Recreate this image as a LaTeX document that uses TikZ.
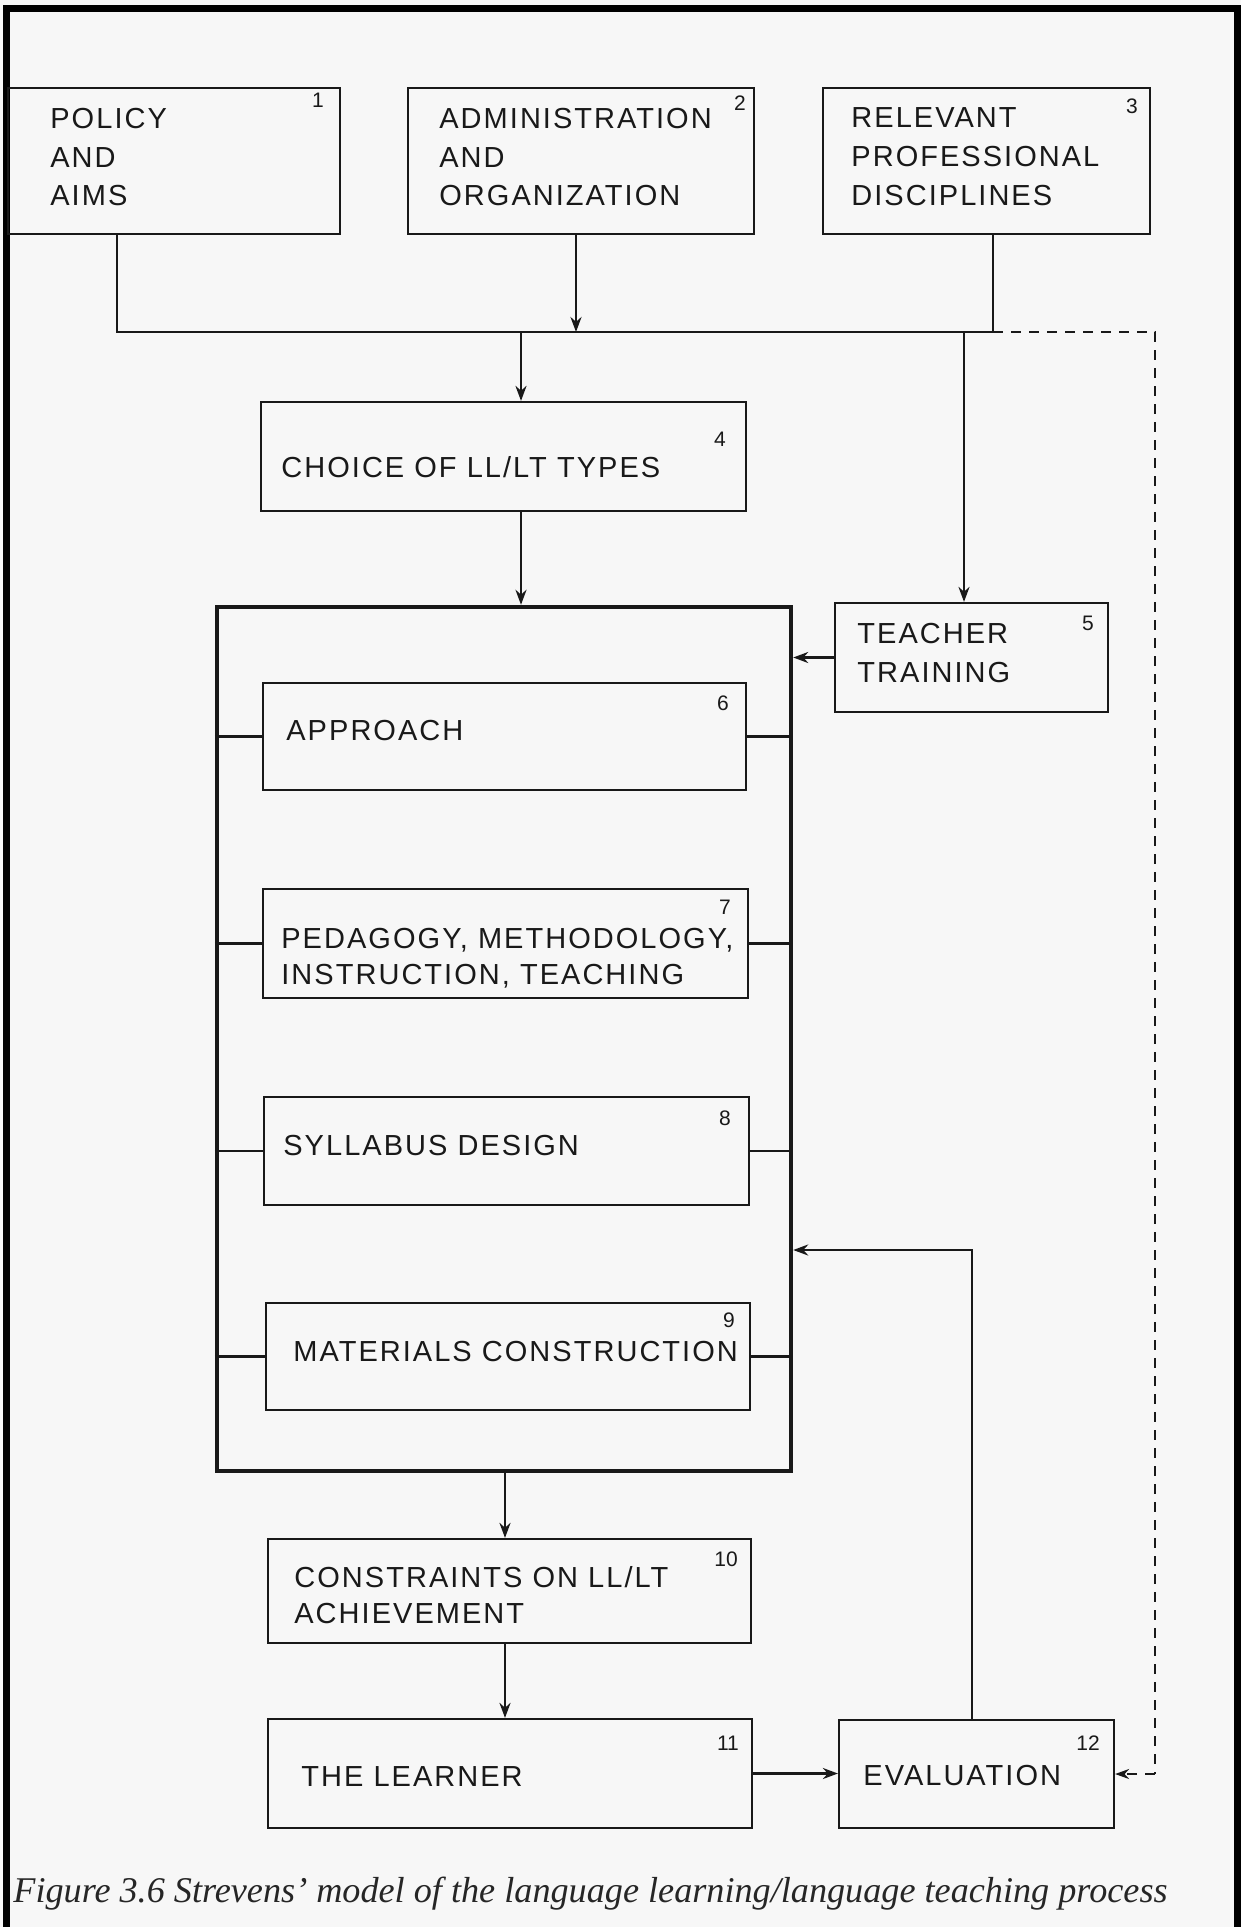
\documentclass[tikz,border=0pt]{standalone}
\usepackage{fontspec}
\setmainfont{Liberation Sans}
\newfontfamily\boxfont[LetterSpace=7]{Liberation Sans}
\newfontfamily\capfont{Liberation Serif}
\usetikzlibrary{arrows.meta,fit}
\newcommand\bxf{\boxfont\fontsize{14.5pt}{17pt}\selectfont}
\newcommand\nmf{\fontsize{10.5pt}{12pt}\selectfont}
\begin{document}
\begin{tikzpicture}[x=0.5pt,y=-0.5pt,
  box/.style={draw=black!90, line width=1.1pt, inner sep=0pt},
  bigbox/.style={draw=black!90, line width=2.2pt, inner sep=0pt},
  txt/.style={anchor=base west, inner sep=0pt, font=\bxf, text=black!90},
  num/.style={inner sep=0pt, font=\nmf, text=black!90},
  conn/.style={draw=black!90, line width=1.3pt},
  arr/.style={conn, -{Stealth[length=7.5pt,width=5.5pt]}},
  dsh/.style={draw=black!90, line width=1pt, dash pattern=on 5pt off 4pt}]
\useasboundingbox (0,0) rectangle (1241,1927);
\fill[black!3] (0,0) rectangle (1241,1927);
% frame
\draw[line width=3.5pt] (6.5,1927) -- (6.5,8.5) -- (1237.5,8.5) -- (1237.5,1927);
% boxes
\node[box, fit={(8,88)(340,234)}] (b1) {};
\node[box, fit={(408,88)(754,234)}] (b2) {};
\node[box, fit={(823,88)(1150,234)}] (b3) {};
\node[box, fit={(261,402)(746,511)}] (b4) {};
\node[box, fit={(835,603)(1108,712)}] (b5) {};
\node[bigbox, fit={(217,607)(791,1471)}] (big) {};
\node[box, fit={(263,683)(746,790)}] (b6) {};
\node[box, fit={(263,889)(748,998)}] (b7) {};
\node[box, fit={(264,1097)(749,1205)}] (b8) {};
\node[box, fit={(266,1303)(750,1410)}] (b9) {};
\node[box, fit={(268,1539)(751,1643)}] (b10) {};
\node[box, fit={(268,1719)(752,1828)}] (b11) {};
\node[box, fit={(839,1720)(1114,1828)}] (b12) {};
% texts
\node[txt] (t1a) at (50,128) {POLICY};
\node[txt] (t1b) at (50,167) {AND};
\node[txt] (t1c) at (50,205) {AIMS};
\node[num] (n1) at (318,100) {1};
\node[txt] (t2a) at (439,128) {ADMINISTRATION};
\node[txt] (t2b) at (439,167) {AND};
\node[txt] (t2c) at (439,205) {ORGANIZATION};
\node[num] (n2) at (740,103) {2};
\node[txt] (t3a) at (851,127) {RELEVANT};
\node[txt] (t3b) at (851,166) {PROFESSIONAL};
\node[txt] (t3c) at (851,205) {DISCIPLINES};
\node[num] (n3) at (1132,106) {3};
\node[txt] (t4) at (281,477) {CHOICE OF LL/LT TYPES};
\node[num] (n4) at (720,439) {4};
\node[txt] (t5a) at (857,643) {TEACHER};
\node[txt] (t5b) at (857,682) {TRAINING};
\node[num] (n5) at (1088,623) {5};
\node[txt] (t6) at (286,740) {APPROACH};
\node[num] (n6) at (723,703) {6};
\node[txt] (t7a) at (281,948) {PEDAGOGY, METHODOLOGY,};
\node[txt] (t7b) at (281,984) {INSTRUCTION, TEACHING};
\node[num] (n7) at (725,907) {7};
\node[txt] (t8) at (283,1155) {SYLLABUS DESIGN};
\node[num] (n8) at (725,1118) {8};
\node[txt] (t9) at (293,1361) {MATERIALS CONSTRUCTION};
\node[num] (n9) at (729,1320) {9};
\node[txt] (t10a) at (294,1587) {CONSTRAINTS ON LL/LT};
\node[txt] (t10b) at (294,1623) {ACHIEVEMENT};
\node[num] (n10) at (726,1559) {10};
\node[txt] (t11) at (301,1786) {THE LEARNER};
\node[num] (n11) at (728,1743) {11};
\node[txt] (t12) at (863,1785) {EVALUATION};
\node[num] (n12) at (1088,1743) {12};
% caption
\node[anchor=base west, inner sep=0pt, font=\capfont\itshape\fontsize{18.1pt}{22pt}\selectfont, text=black!85] (cap) at (13,1902)
  {Figure 3.6 Strevens’ model of the language learning/language teaching process};
% bus
\coordinate (busL) at (117,332);
\coordinate (busA) at (576,332);
\coordinate (busB) at (521,332);
\coordinate (busC) at (964,332);
\coordinate (busR) at (993,332);
\coordinate (dshR) at (1155,332);
\coordinate (fbTop) at (972,1250);
\draw[conn] (b1.south -| busL) -- (busL) -- (busR) -- (b3.south -| busR);
\draw[arr] (b2.south -| busA) -- (busA);
\draw[arr] (busB) -- (b4.north -| busB);
\draw[arr] (busC) -- (b5.north -| busC);
\draw[dsh] (busR) -- (dshR) -- (dshR |- b12.east);
\draw[dsh, -{Stealth[length=7pt,width=5pt]}] (dshR |- b12.east) -- (b12.east);
\draw[arr] (b4.south -| busB) -- (big.north -| busB);
\draw[arr] (b5.west) -- (big.east |- b5.west);
% stubs
\foreach \b in {b6,b7,b8,b9}{
  \draw[conn] (big.west |- \b.west) -- (\b.west);
  \draw[conn] (\b.east) -- (big.east |- \b.east);
}
\coordinate (dn) at (505,1471);
\draw[arr] (big.south -| dn) -- (b10.north -| dn);
\draw[arr] (b10.south -| dn) -- (b11.north -| dn);
\draw[arr] (b11.east) -- (b12.west |- b11.east);
\draw[arr] (b12.north -| fbTop) -- (fbTop) -- (big.east |- fbTop);
\end{tikzpicture}
\end{document}
